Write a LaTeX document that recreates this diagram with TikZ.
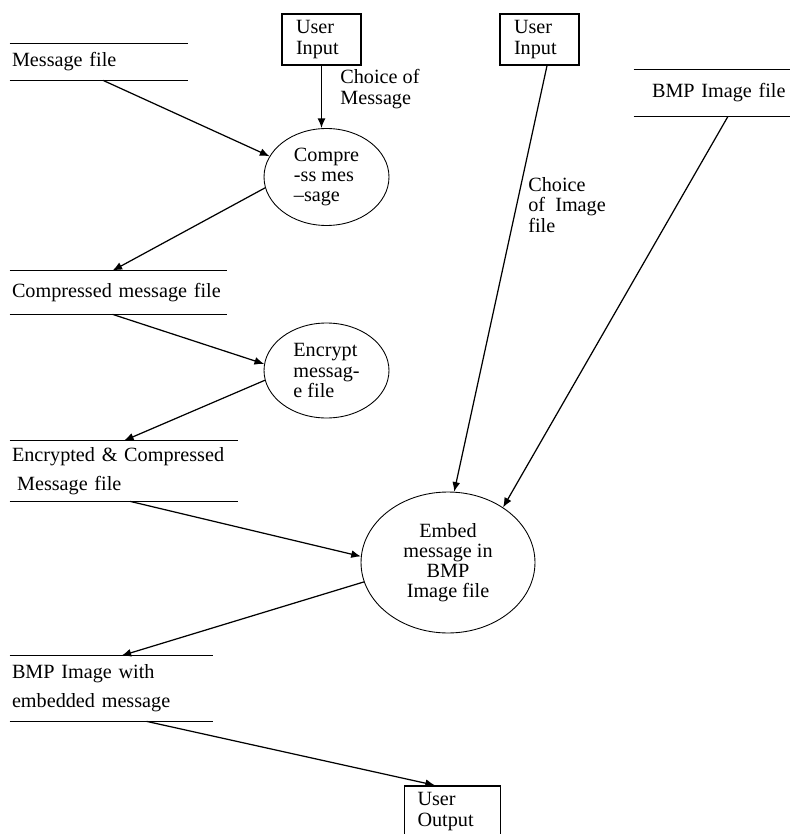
\documentclass[tikz,border=0pt]{standalone}
\usepackage{fontspec}
\setmainfont{Liberation Serif}
\usetikzlibrary{positioning, shapes.geometric, arrows.meta}

\tikzset{
	procbox/.style={draw, ellipse, line width=0.5pt, align=left, inner sep=0pt},
	termbox/.style={draw, rectangle, line width=0.8pt, align=left, minimum height=1.02cm, 
		inner xsep=0.28cm, text width=1.02cm},
	storebox/.style={rectangle, align=left, inner xsep=0.04cm, inner ysep=0pt, 
		font=\fontsize{11.5}{16.5}\selectfont},
	storeline/.style={line width=0.8pt},
	flow/.style={-{Latex[length=5.5pt,width=4.5pt]}, line width=0.7pt}
}

\begin{document}
\begin{tikzpicture}[x=0.02cm, y=-0.02cm, font=\fontsize{11.5}{11.5}\selectfont]
		\useasboundingbox (0,0) rectangle (790,834);
		
		%Data stores
		\node (msgfile) at (99,62) [storebox, text width=3.48cm, minimum height=0.72cm]{Message file};
		\node (cmpfile) at (118.5,292.5) [storebox, text width=4.26cm, minimum height=0.86cm]{Compressed message file};
		\node (encfile) at (124,471) [storebox, text width=4.48cm, minimum height=1.2cm]{Encrypted \& Compressed\\\hspace*{0.25em}Message file};
		\node (bmpout) at (111.5,688.5) [storebox, text width=3.98cm, minimum height=1.3cm]{BMP Image with\\embedded message};
		\node (bmpfile) at (722,93) [storebox, text width=2.8cm, inner xsep=0.36cm, minimum height=0.92cm]{BMP Image file};
		\foreach \s in {msgfile,cmpfile,encfile,bmpout,bmpfile}
		\draw[storeline] (\s.north west) -- (\s.north east) (\s.south west) -- (\s.south east);
		
		%Processes
		\node (compress) at (326.5,177) [procbox, minimum width=2.5cm, minimum height=1.94cm]{Compre\\-ss mes\\--sage};
		\node (encrypt) at (326.5,370.5) [procbox, minimum width=2.5cm, minimum height=1.9cm]{Encrypt\\messag-\\e file};
		\node (embed) at (448,562.5) [procbox, align=center, minimum width=3.48cm, minimum height=2.82cm]{Embed\\message in\\BMP\\Image file};
		
		%User boxes
		\node (userin1) at (321.5,39.5) [termbox]{User\\Input};
		\node (userin2) at (539.5,39.5) [termbox]{User\\Input};
		\node (userout) at (452.5,811.5) [termbox, text width=1.4cm, inner xsep=0.26cm]{User\\Output};
		
		%Labels of the choices
		\node (lblmsg) at (340,89) [anchor=west, align=left, inner sep=0pt]{Choice of\\Message};
		\node (lblimg) at (528,205) [anchor=west, align=left, inner sep=0pt]{Choice\\of\ \ Image\\file};
		
		%Links among blocks
		\draw[flow] ([xshift=0.08cm]msgfile.south) -- (compress.160);
		\draw[flow] (userin1.south) -- (userin1.south |- compress.north);
		\draw[flow] (compress.190) -- ([xshift=-0.12cm]cmpfile.north);
		\draw[flow] ([xshift=-0.12cm]cmpfile.south) -- (encrypt.174);
		\draw[flow] (encrypt.189) -- (encfile.north);
		\draw[flow] ([xshift=0.12cm]encfile.south) -- (embed.176);
		\draw[flow] (embed.193) -- ([xshift=0.2cm]bmpout.north);
		\draw[flow] ([xshift=0.7cm]bmpout.south) -- ([xshift=-0.35cm]userout.north);
		\draw[flow] ([xshift=0.15cm]userin2.south) -- (embed.85);
		\draw[flow] ([xshift=0.12cm]bmpfile.south) -- (embed.45);
		
\end{tikzpicture}
\end{document}
